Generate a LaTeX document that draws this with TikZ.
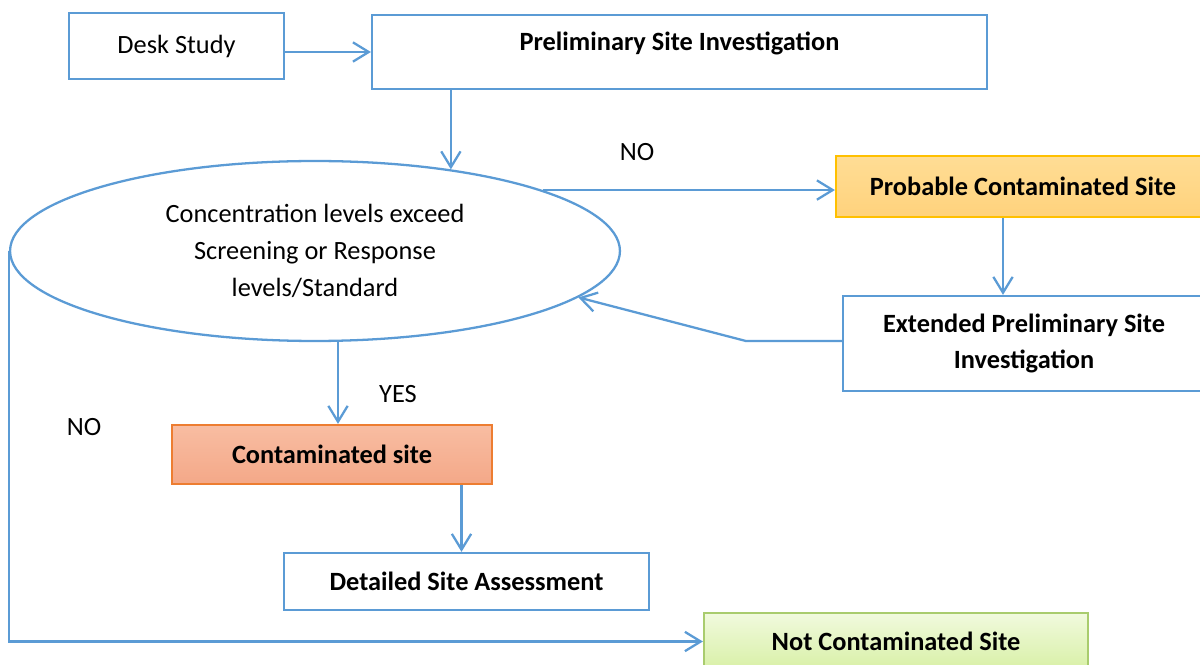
\documentclass[tikz,border=0pt]{standalone}
\usepackage{fontspec}
\setmainfont{Carlito}
\usetikzlibrary{arrows.meta, shapes.geometric}

\definecolor{lineblue}{HTML}{5B9BD5}
\definecolor{orangeborder}{HTML}{FFC000}
\definecolor{orangetop}{HTML}{FFDD95}
\definecolor{orangebot}{HTML}{FFD27C}
\definecolor{salmonborder}{HTML}{ED7D31}
\definecolor{salmontop}{HTML}{F8BDA2}
\definecolor{salmonbot}{HTML}{F4A888}
\definecolor{greenborder}{HTML}{A9CC6E}
\definecolor{greentop}{HTML}{F1FADE}
\definecolor{greenbot}{HTML}{D8F0A6}

\tikzset{
  box/.style={draw=lineblue, line width=1.3pt, rectangle, inner sep=2pt,
    font=\fontsize{15}{21}\selectfont, align=center},
  boldbox/.style={box, font=\fontsize{15}{21}\selectfont\bfseries},
  arr/.style={draw=lineblue, line width=1.3pt, -{Straight Barb[length=9pt,width=11pt]}},
  lbl/.style={font=\fontsize{15}{18}\selectfont}
}

\begin{document}
\begin{tikzpicture}[x=0.02cm, y=-0.02cm]
        \useasboundingbox (0,0) rectangle (1200,665);
        % boxes
        \node (desk) at (176.5,46) [box, minimum width=4.3cm, minimum height=1.32cm] {Desk Study};
        \node (prelim) at (679.5,52) [boldbox, text depth=12.5pt, minimum width=12.3cm, minimum height=1.48cm] {Preliminary Site Investigation};
        \node (ell) at (315,251) [box, ellipse, inner sep=0pt, minimum width=12.2cm, minimum height=3.6cm]
          {Concentration levels exceed\\Screening or Response\\levels/Standard};
        \node (prob) at (1023,186.5) [boldbox, draw=orangeborder, top color=orangetop, bottom color=orangebot,
          minimum width=7.48cm, minimum height=1.22cm] {Probable Contaminated Site};
        \node (ext) at (1024,343.5) [boldbox, minimum width=7.24cm, minimum height=1.9cm]
          {Extended Preliminary Site\\Investigation};
        \node (cont) at (332,454.5) [boldbox, draw=salmonborder, top color=salmontop, bottom color=salmonbot,
          minimum width=6.4cm, minimum height=1.18cm] {Contaminated site};
        \node (det) at (466.5,581.5) [boldbox, minimum width=7.3cm, minimum height=1.14cm] {Detailed Site Assessment};
        \node (notc) at (896,641.5) [boldbox, draw=greenborder, top color=greentop, bottom color=greenbot,
          minimum width=7.68cm, minimum height=1.14cm] {Not Contaminated Site};
        % labels
        \node (no1) at (637,152) [lbl] {NO};
        \node (yes) at (398,394) [lbl] {YES};
        \node (no2) at (84,427) [lbl] {NO};
        % connectors
        \draw [arr] (desk.east |- prelim.west) -- (prelim.west);
        \draw [arr] (prelim.south -| ell.31.5) -- (ell.31.5);
        \draw [arr] (ell.15) -- (ell.15 -| prob.west);
        \draw [arr] ([xshift=-0.4cm]prob.south) -- ([xshift=-0.4cm]prob.south |- ext.north);
        \draw [arr] ([yshift=0.05cm]ext.west) -- ++(-96,0) -- (ell.-10);
        \draw [arr] ([xshift=0.46cm]ell.south) -- ([xshift=0.46cm]ell.south |- cont.north);
        \draw [arr] ([xshift=-0.1cm]cont.south -| det.north) -- ([xshift=-0.1cm]det.north);
        \draw [arr] (ell.west) -- (ell.west |- notc.west) -- (notc.west);
      \end{tikzpicture}
\end{document}
